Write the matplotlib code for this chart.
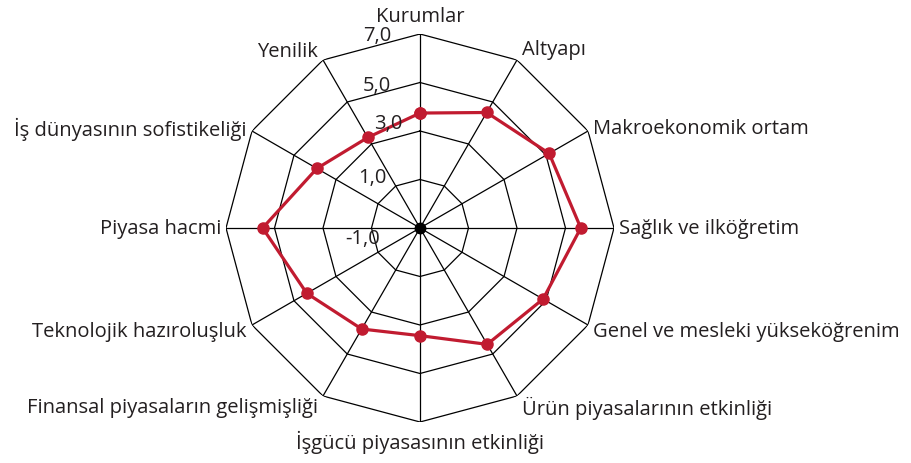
import matplotlib
matplotlib.use("Agg")
import matplotlib.pyplot as plt
import numpy as np

plt.rcParams['font.family'] = ['Open Sans', 'DejaVu Sans']

# pillars of the competitiveness index, clockwise from the top
categories = [
    "Kurumlar", "Altyapı", "Makroekonomik ortam", "Sağlık ve ilköğretim",
    "Genel ve mesleki yükseköğrenim", "Ürün piyasalarının etkinliği",
    "İşgücü piyasasının etkinliği", "Finansal piyasaların gelişmişliği",
    "Teknolojik hazıroluşluk", "Piyasa hacmi", "İş dünyasının sofistikeliği",
    "Yenilik",
]
scores = [3.74, 4.50, 5.15, 5.63, 4.86, 4.54, 3.44, 3.81, 4.39, 5.49, 3.91, 3.31]
ring_values = [1.0, 3.0, 5.0, 7.0]
tick_values = [-1.0, 1.0, 3.0, 5.0, 7.0]
tick_labels = ["-1,0", "1,0", "3,0", "5,0", "7,0"]

r_min, r_max = -1.0, 7.0
red = "#c11b30"
ink = "#231f20"
fs = 14.5

fig = plt.figure(figsize=(9.12, 4.64), dpi=100)
W, H = 912, 464
cx, cy, R = 420, 229, 194
ax = fig.add_axes([(cx - R) / W, (H - cy - R) / H, 2 * R / W, 2 * R / H],
                  projection="polar")
ax.set_theta_zero_location("N")
ax.set_theta_direction(-1)
ax.set_ylim(r_min, r_max)
ax.grid(False)
ax.set_xticks([])
ax.set_yticks([])
ax.spines["polar"].set_visible(False)
ax.patch.set_visible(False)

n = len(categories)
theta = np.arange(n) * 2 * np.pi / n
theta_closed = np.append(theta, theta[0])

# polygon rings and spokes
for rv in ring_values:
    ax.plot(theta_closed, [rv] * (n + 1), color="black", lw=0.9, zorder=1)
for t in theta:
    ax.plot([t, t], [r_min, r_max], color="black", lw=0.9, zorder=1)
ax.plot([0], [r_min], "o", color="black", ms=7.5, zorder=2)

# data
vals = np.append(scores, scores[0])
ax.plot(theta_closed, vals, color=red, lw=2.3, marker="o", ms=8, zorder=3)

# radial tick labels
tick_offsets = [(-57, -10), (-48, 2), (-32, 8), (-43, -3), (-43, -1)]
for v, lab, off in zip(tick_values, tick_labels, tick_offsets):
    ax.annotate(lab, xy=(0, v), xytext=off, textcoords="offset pixels",
                ha="center", va="center", fontsize=fs, color=ink)

# category labels, pixel nudges from the outer vertex
label_dy = [18, 11, 3, 0, -6, -11, -19, -11, -6, 0, 3, 9]
for t, lab, dy in zip(theta, categories, label_dy):
    s = np.sin(t)
    if abs(s) < 1e-6:
        ha, dx = "center", 0
    elif s > 0:
        ha, dx = "left", 5
    else:
        ha, dx = "right", -5
    ax.annotate(lab, xy=(t, r_max), xytext=(dx, dy), textcoords="offset pixels",
                ha=ha, va="center", fontsize=fs, color=ink)

fig.savefig("out.png", dpi=100)
